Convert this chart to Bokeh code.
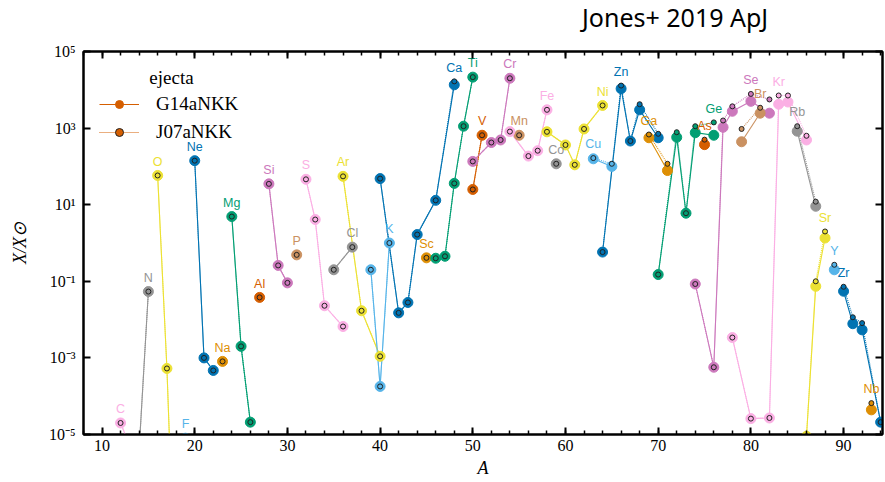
import numpy as np
from bokeh.plotting import figure
from bokeh.layouts import column
from bokeh.models import (Range1d, FixedTicker, LinearAxis, LogAxis, CustomJSTickFormatter,
                          Legend, LegendItem, Label, ColumnDataSource, Div)
from bokeh.core.properties import value
from bokeh.embed import file_html
from bokeh.resources import INLINE

# ---------------- data ----------------
elements = ["C", "N", "O", "F", "Ne", "Na", "Mg", "Al", "Si", "P", "S", "Cl", "Ar", "K", "Ca", "Sc",
            "Ti", "V", "Cr", "Mn", "Fe", "Co", "Ni", "Cu", "Zn", "Ga", "Ge", "As", "Se", "Br", "Kr",
            "Rb", "Sr", "Y", "Zr", "Nb"]
atomic_numbers = list(range(6, 42))

iso_element = ["C", "C", "N", "N", "O", "O", "O", "F", "Ne", "Ne", "Ne", "Na", "Mg", "Mg", "Mg", "Al",
               "Si", "Si", "Si", "P", "S", "S", "S", "S", "Cl", "Cl", "Ar", "Ar", "Ar", "K", "K", "K",
               "Ca", "Ca", "Ca", "Ca", "Ca", "Ca", "Sc", "Ti", "Ti", "Ti", "Ti", "Ti", "V", "V",
               "Cr", "Cr", "Cr", "Cr", "Mn", "Fe", "Fe", "Fe", "Fe", "Co", "Ni", "Ni", "Ni", "Ni", "Ni",
               "Cu", "Cu", "Zn", "Zn", "Zn", "Zn", "Zn", "Ga", "Ga", "Ge", "Ge", "Ge", "Ge", "Ge", "As",
               "Se", "Se", "Se", "Se", "Se", "Se", "Br", "Br", "Kr", "Kr", "Kr", "Kr", "Kr", "Kr",
               "Rb", "Rb", "Sr", "Sr", "Sr", "Y", "Zr", "Zr", "Zr", "Zr", "Nb"]

iso_A = [12, 13, 14, 15, 16, 17, 18, 19, 20, 21, 22, 23, 24, 25, 26, 27,
         28, 29, 30, 31, 32, 33, 34, 36, 35, 37, 36, 38, 40, 39, 40, 41,
         40, 42, 43, 44, 46, 48, 45, 46, 47, 48, 49, 50, 50, 51,
         50, 52, 53, 54, 55, 54, 56, 57, 58, 59, 58, 60, 61, 62, 64,
         63, 65, 64, 66, 67, 68, 70, 69, 71, 70, 72, 73, 74, 76, 75,
         74, 76, 77, 78, 80, 82, 79, 81, 78, 80, 82, 83, 84, 86,
         85, 87, 86, 87, 88, 89, 90, 91, 92, 94, 93]

g14 = [2.0e-5, 5e-6, 4e-6, 0.054, 58, 5.3e-4, 1e-10, 8e-6, 141, 1.0e-3, 4.7e-4, 8.1e-4, 4.9, 2.0e-3, 2.1e-5, 0.038,
       35, 0.26, 0.091, 0.49, 46, 4.1, 0.023, 6.6e-3, 0.20, 0.78, 55, 0.017, 1.1e-3, 0.20, 1.8e-4, 1.0,
       48, 0.015, 0.028, 1.66, 13, 13500, 0.41, 0.40, 0.45, 36, 1120, 21400, 25, 650,
       135, 420, 490, 20000, 650, 810, 186, 257, 3000, 117, 800, 363, 110, 950, 3900,
       158, 100, 0.58, 10700, 460, 3000, 560, 560, 78, 0.15, 575, 6.0, 760, 650, 370,
       0.085, 5.7e-4, 1050, 2750, 5000, 2450, 440, 2450, 3.4e-3, 2.6e-5, 2.7e-5, 4200, 4800, 490,
       830, 9.1, 9e-6, 0.074, 1.35, 0.20, 0.055, 7.8e-3, 5.4e-3, 2.1e-5, 4.4e-5]

j07 = [2.0e-5, 5e-6, 4e-6, 0.054, 58, 5.3e-4, 1e-10, 8e-6, 141, 1.0e-3, 4.7e-4, 8.1e-4, 4.9, 2.0e-3, 2.1e-5, 0.038,
       35, 0.26, 0.091, 0.49, 46, 4.1, 0.023, 6.6e-3, 0.20, 0.78, 55, 0.017, 1.1e-3, 0.20, 1.8e-4, 1.0,
       48, 0.015, 0.028, 1.66, 13, 16600, 0.41, 0.40, 0.45, 36, 1120, 21400, 25, 650,
       135, 420, 490, 20000, 650, 810, 186, 257, 3000, 117, 800, 363, 110, 950, 3900,
       165, 117, 0.58, 12900, 460, 4200, 710, 680, 117, 0.15, 780, 6.0, 1120, 1410, 500,
       0.085, 5.7e-4, 1580, 3700, 7800, 5600, 950, 3400, 3.4e-3, 2.6e-5, 2.7e-5, 7100, 7100, 630,
       1120, 12, 9e-6, 0.10, 2.0, 0.27, 0.072, 0.0115, 8.1e-3, 2.1e-5, 6.6e-5]

x_ticks = [10, 20, 30, 40, 50, 60, 70, 80, 90]
y_ticks = [1e-5, 1e-3, 1e-1, 1e1, 1e3, 1e5]

assert len(iso_element) == len(iso_A) == len(g14) == len(j07)

palette = ['#0173B2', '#DE8F05', '#029E73', '#D55E00', '#CC78BC',
           '#CA9161', '#FBAFE4', '#949494', '#ECE133', '#56B4E9']

# ---------------- title (Div above the plot) ----------------
header = Div(text='<div style="margin-left:582px; margin-top:2px; font-family:\'Noto Sans\'; '
                  'font-size:25px; line-height:30px; color:black; white-space:nowrap;">'
                  'Jones+ 2019 ApJ</div>',
             width=885, height=36, margin=0)

# ---------------- figure ----------------
p = figure(width=885, height=446, x_range=Range1d(8, 94.2), y_range=Range1d(1e-5, 1e5),
           y_axis_type="log", output_backend="svg", toolbar_location=None,
           min_border_left=83, min_border_right=3, min_border_top=15, min_border_bottom=48)
p.margin = 0
p.grid.visible = False
p.outline_line_color = "black"
p.outline_line_width = 2
p.background_fill_color = "white"
p.border_fill_color = "white"

xt = FixedTicker(ticks=x_ticks, minor_ticks=list(range(8, 95, 2)))
yt = FixedTicker(ticks=y_ticks, minor_ticks=[])
fmt = CustomJSTickFormatter(code="""
const sup = {"-":"\u207b","0":"\u2070","1":"\u00b9","2":"\u00b2","3":"\u00b3","4":"\u2074",
             "5":"\u2075","6":"\u2076","7":"\u2077","8":"\u2078","9":"\u2079"};
const e = Math.round(Math.log10(tick));
return "10" + String(e).split("").map(c => sup[c]).join("");
""")

serif = "Liberation Serif"

def style_axis(ax, show_labels):
    ax.axis_line_width = 2
    ax.axis_line_color = "black"
    ax.major_tick_in = 7
    ax.major_tick_out = 0
    ax.minor_tick_in = 4
    ax.minor_tick_out = 0
    ax.major_tick_line_width = 2
    ax.minor_tick_line_width = 1.5
    ax.major_tick_line_color = "black"
    ax.minor_tick_line_color = "black"
    if show_labels:
        ax.major_label_text_font = serif
        ax.major_label_text_font_size = "16px"
        ax.major_label_text_color = "black"
        ax.axis_label_text_font = serif
        ax.axis_label_text_font_size = "18px"
        ax.axis_label_text_font_style = "italic"
        ax.axis_label_text_color = "black"
    else:
        ax.major_label_text_alpha = 0
        ax.major_label_standoff = 0

xa = p.xaxis[0]
xa.ticker = xt
xa.axis_label = "A"
xa.major_label_standoff = 5
xa.axis_label_standoff = 4
style_axis(xa, True)

ya = p.yaxis[0]
ya.ticker = yt
ya.formatter = fmt
ya.axis_label = "X/X\u2299"
ya.major_label_standoff = 8
ya.axis_label_standoff = 16
style_axis(ya, True)

top = LinearAxis(ticker=xt, formatter=CustomJSTickFormatter(code="return '';"))
style_axis(top, False)
p.add_layout(top, "above")
right = LogAxis(ticker=yt, formatter=CustomJSTickFormatter(code="return '';"))
style_axis(right, False)
p.add_layout(right, "right")

# ---------------- data glyphs ----------------
groups = []
for el, z in zip(elements, atomic_numbers):
    idx = sorted([i for i, e in enumerate(iso_element) if e == el], key=lambda i: iso_A[i])
    A = [iso_A[i] for i in idx]
    g = [g14[i] for i in idx]
    j = [j07[i] for i in idx]
    groups.append((el, palette[z % 10], A, g, j))

refs = {}
for el, c, A, g, j in groups:
    refs[(el, "gl")] = p.line(A, g, line_color=c, line_width=1.1)
for el, c, A, g, j in groups:
    refs[(el, "jl")] = p.line(A, j, line_color=c, line_width=1.1, line_dash="1 1")
for el, c, A, g, j in groups:
    refs[(el, "gs")] = p.scatter(A, g, size=10, fill_color=c, line_color=c, line_width=1)
for el, c, A, g, j in groups:
    refs[(el, "js")] = p.scatter(A, j, size=5, fill_color=c, line_color="#222222", line_width=1)

# element labels above highest isotope
lab_x, lab_y, lab_c = [], [], []
for el, c, A, g, j in groups:
    both = [max(a, b) for a, b in zip(g, j)]
    k = int(np.argmax(both))
    lab_x.append(A[k])
    lab_y.append(both[k] * 2.3)
    lab_c.append(c)
src = ColumnDataSource(dict(x=lab_x, y=lab_y, t=elements, c=lab_c))
p.text(x="x", y="y", text="t", text_color="c", source=src, text_font=value("Liberation Sans"),
       text_font_size="12.5px", text_align="center", text_baseline="middle")

# ---------------- legend ----------------
legend = Legend(items=[
    LegendItem(label="G14aNKK", renderers=[refs[("V", "gl")], refs[("V", "gs")]]),
    LegendItem(label="J07aNKK", renderers=[refs[("V", "jl")], refs[("V", "js")]]),
], location=(16, 291))
legend.label_text_font = serif
legend.label_text_font_size = "19px"
legend.label_text_color = "black"
legend.glyph_width = 40
legend.glyph_height = 20
legend.label_standoff = 17
legend.spacing = 6
legend.padding = 0
legend.margin = 0
legend.border_line_color = None
legend.background_fill_alpha = 0
p.add_layout(legend)

p.add_layout(Label(x=15.1, y=2.1e4, text="ejecta", text_font=serif, text_font_size="19px",
                   text_color="black", text_align="left", text_baseline="middle"))

layout = column(header, p, spacing=0)
open("out.html", "w").write(file_html(layout, INLINE))
